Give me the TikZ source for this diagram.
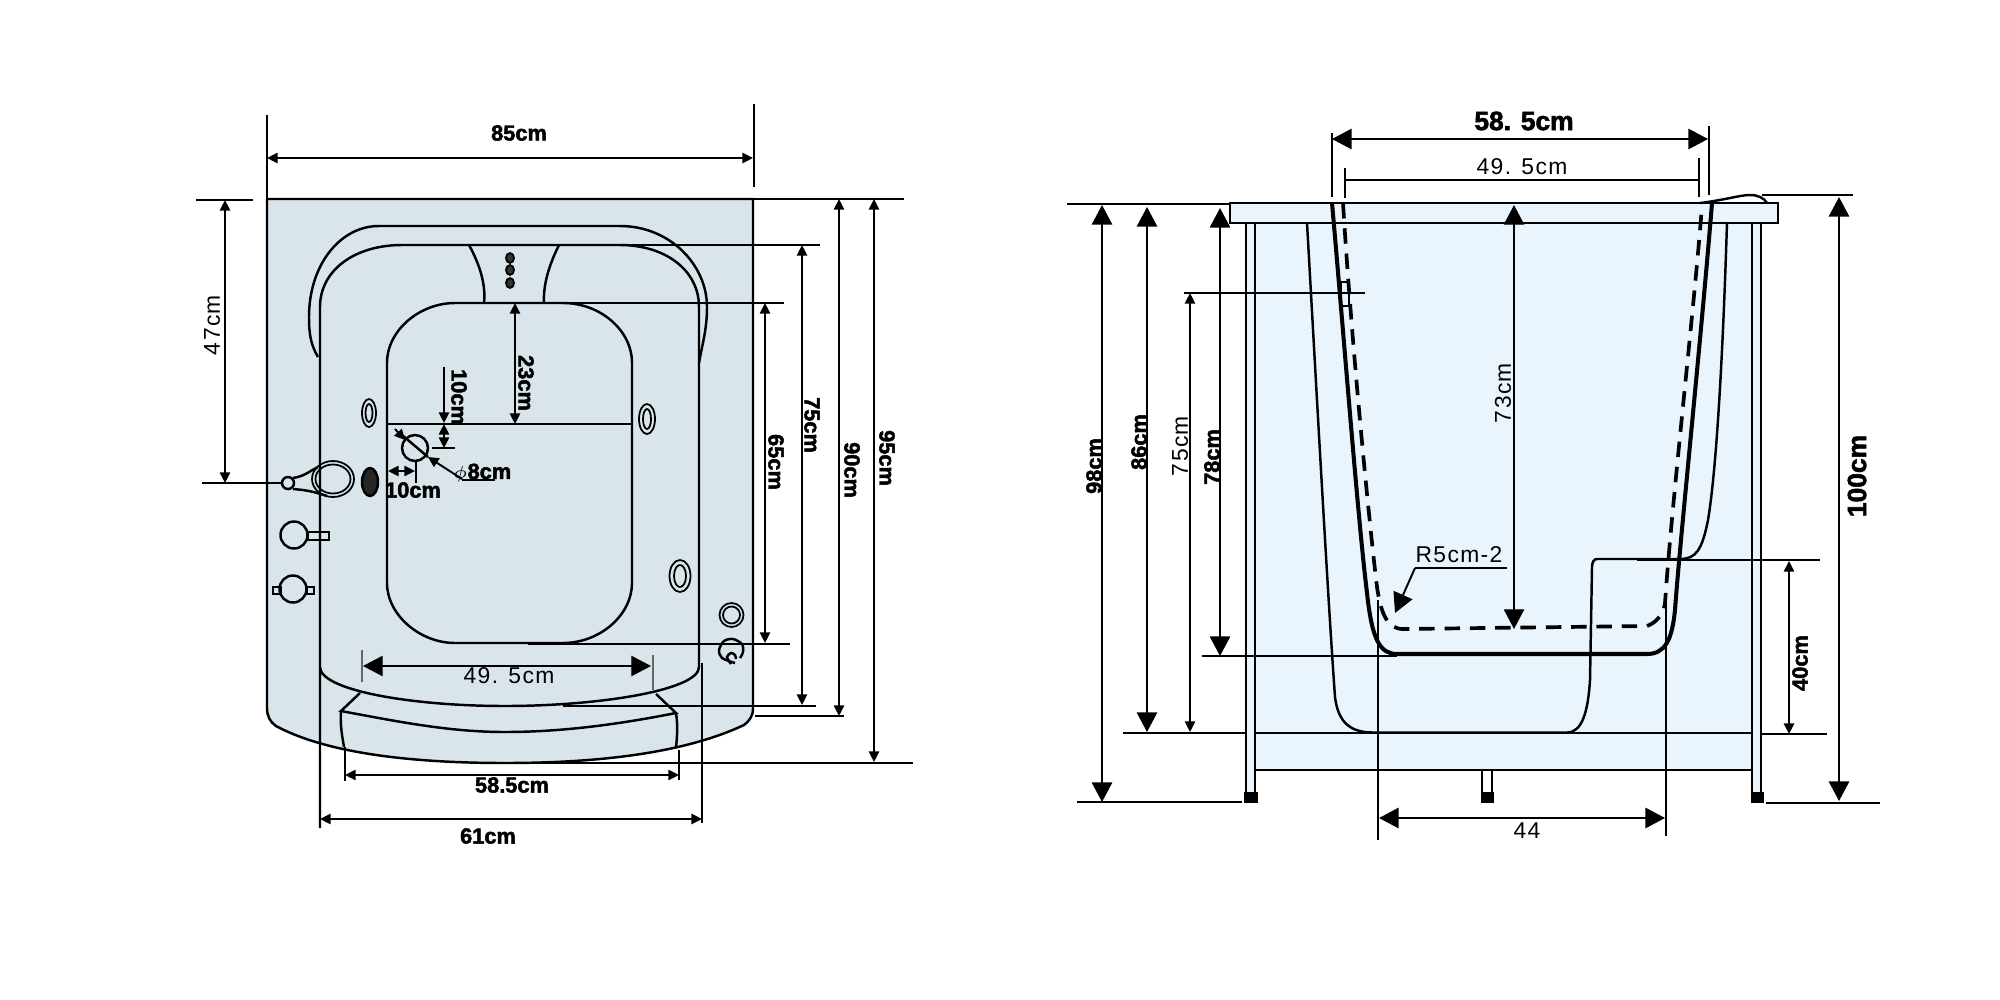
\documentclass[tikz,border=0pt]{standalone}
\usepackage{fontspec}
\setmainfont{Liberation Sans}
\newfontfamily\heavyfont[FakeBold=2.2]{Liberation Sans Bold}
\newfontfamily\thinfont[LetterSpace=6]{Liberation Sans}
\usetikzlibrary{arrows.meta}
\definecolor{panelblue}{HTML}{D9E4EB}
\definecolor{bodyblue}{HTML}{E9F4FC}
\tikzset{
  outline/.style={line width=0.7pt,black},
  thinline/.style={line width=0.5pt,black},
  thickline/.style={line width=1.15pt,black},
  dimsmall/.style={line width=0.55pt,black,{Triangle[length=3pt,width=2.9pt]}-{Triangle[length=3pt,width=2.9pt]}},
  dimbig/.style={line width=0.55pt,black,{Triangle[length=5.6pt,width=5.8pt]}-{Triangle[length=5.6pt,width=5.8pt]}},
  extline/.style={line width=0.5pt,black},
  labthin/.style={font=\fontsize{6.5pt}{7pt}\thinfont,inner sep=0pt},
  labbold/.style={font=\fontsize{6.2pt}{7pt}\heavyfont,inner sep=0pt},
  labbig/.style={font=\fontsize{7.5pt}{8pt}\heavyfont,inner sep=0pt},
}
\begin{document}
\begin{tikzpicture}[x=0.01cm,y=-0.01cm]
\useasboundingbox (0,0) rectangle (2000,1000);
%% top view: panel
\filldraw[outline,fill=panelblue] (267,199)--(753,199)--(753,708) .. controls (753,716) and (750,720) .. (744,725)
  .. controls (680,755) and (590,763) .. (505,763) .. controls (420,763) and (330,755) .. (276,726)
  .. controls (270,722) and (267,716) .. (267,708)--cycle;
%% top view: rim and headrest
\draw[outline] (320,828)--(320,307) .. controls (320,270) and (355,245) .. (402,245)--(620,245)
  .. controls (665,245) and (699,270) .. (699,307)--(699,667) .. controls (699,690) and (600,706) .. (505,706)
  .. controls (410,706) and (320,690) .. (320,667);
\draw[outline] (318,357) .. controls (311,345) and (309,335) .. (309,317) .. controls (309,265) and (340,226) .. (379,226)
  --(620,226) .. controls (670,226) and (707,265) .. (707,307) .. controls (707,330) and (702,345) .. (699,363);
\draw[outline] (469,245) .. controls (480,265) and (486,285) .. (484,303);
\draw[outline] (559,245) .. controls (549,265) and (543,285) .. (544,303);
\foreach \ypos in {258,270,283}{
  \filldraw[thinline,fill=black!80] (510,\ypos) ellipse (4 and 5);
}
%% top view: basin
\draw[outline] (387,424)--(387,363) .. controls (387,330) and (420,303) .. (455,303)--(563,303)
  .. controls (600,303) and (632,330) .. (632,363)--(632,583) .. controls (632,615) and (600,643) .. (563,643)
  --(455,643) .. controls (420,643) and (387,615) .. (387,583)--cycle;
\draw[outline] (387,424)--(632,424);
%% top view: step
\draw[outline] (360,693)--(341,711) .. controls (400,722) and (450,732) .. (505,732) .. controls (570,732) and (630,722) .. (676,713)--(656,694);
\draw[outline] (341,711) .. controls (340,725) and (342,735) .. (344,747);
\draw[outline] (676,713) .. controls (678,725) and (677,738) .. (676,748);
%% top view: jets and fittings
\draw[thinline] (369,413) ellipse (7 and 14);
\draw[thinline] (369,413) ellipse (3.5 and 9);
\draw[thinline] (647,419) ellipse (8 and 15);
\draw[thinline] (647,419) ellipse (4 and 10);
\draw[thinline] (680,576) ellipse (10.5 and 16);
\draw[thinline] (680,576) ellipse (6 and 11);
\filldraw[outline,fill=black!85] (370,482) ellipse (8 and 14);
\draw[thinline] (731.5,615) circle (12);
\draw[thinline] (731.5,615) circle (8.5);
\draw[outline] plot[smooth] coordinates {(735,663) (722,658) (719,650) (724,641) (733,639) (742,644) (743,652) (740,658)};
\draw[outline] plot[smooth] coordinates {(731,664) (727,657) (731,653) (735,655) (736,659)};
%% top view: handle
\draw[thinline] (333,479) ellipse (21 and 18);
\draw[thinline] (333,479) ellipse (17.5 and 14.5);
\draw[outline] (288,483) circle (6);
\draw[outline] (293,478) .. controls (305,476) and (308,472) .. (318,467);
\draw[outline] (293,489) .. controls (305,490) and (312,491) .. (327,496);
\draw[extline] (202,483)--(283,483);
\draw[outline] (294,535) circle (13.5);
\draw[outline] (308,532) rectangle (329,540);
\draw[outline] (293,589) circle (13.5);
\draw[outline] (273,587) rectangle (281,594);
\draw[outline] (307,587) rectangle (314,594);
%% top view: drain
\draw[outline] (415,448) circle (13);
\draw[outline] (402,435)--(428,457);
\draw[line width=0.55pt,-{Triangle[length=3pt,width=2.9pt]}] (395,429)--(405,440);
\draw[line width=0.55pt,-{Triangle[length=3pt,width=2.9pt]}] (462,479)--(428,457);
\draw[extline] (462,480)--(495,480);
\draw[line width=0.55pt,-{Triangle[length=3pt,width=2.9pt]}] (444,367)--(444,423);
\draw[dimsmall] (444,424)--(444,448);
\draw[extline] (432,448)--(455,448);
\draw[dimsmall] (388,471)--(415,471);
\draw[extline] (416,460)--(416,483);
\node[labbold,rotate=-90] (lab_sidea) at (459,397) {10cm};
\node[labbold] (lab_sideb) at (413,490) {10cm};
\node[labbold] (lab_drain) at (482,473) {{\fontsize{4pt}{4pt}\selectfont$\phi$}8cm};
%% top view: dimensions
\draw[extline] (267,115)--(267,199);
\draw[extline] (754,104)--(754,187);
\draw[dimsmall] (267,158)--(753,158);
\node[labbold] (lab_width) at (519,133) {85cm};
\draw[extline] (196,200)--(253,200);
\draw[dimsmall] (225,200)--(225,483);
\node[labthin,rotate=90] (lab_handle) at (212,325) {47cm};
\draw[dimsmall] (515,303)--(515,424);
\node[labbold,rotate=-90] (lab_head) at (526,383) {23cm};
\draw[extline] (565,303)--(784,303);
\draw[extline] (528,644)--(790,644);
\draw[dimsmall] (765,303)--(765,643);
\node[labbold,rotate=-90] (lab_basin) at (776,462) {65cm};
\draw[extline] (574,245)--(820,245);
\draw[extline] (563,706)--(816,706);
\draw[dimsmall] (802,245)--(802,705);
\node[labbold,rotate=-90] (lab_rim) at (812,425) {75cm};
\draw[extline] (753,199)--(904,199);
\draw[extline] (755,716)--(844,716);
\draw[dimsmall] (839,199)--(839,716);
\node[labbold,rotate=-90] (lab_door) at (852,470) {90cm};
\draw[extline] (505,763)--(913,763);
\draw[dimsmall] (874,199)--(874,762);
\node[labbold,rotate=-90] (lab_depth) at (887,458) {95cm};
\draw[extline,black!60] (362,650)--(362,682);
\draw[extline,black!60] (653,655)--(653,690);
\draw[dimbig,line width=0.35pt] (363,666)--(651,666);
\node[labthin] (lab_inner) at (509,676) {49. 5cm};
\draw[extline] (345,747)--(345,781);
\draw[extline] (679,750)--(679,780);
\draw[dimsmall] (345,775)--(679,775);
\node[labbold] (lab_step) at (512,785) {58.5cm};
\draw[extline] (702,663)--(702,823);
\draw[dimsmall] (320,819)--(702,819);
\node[labbold] (lab_outer) at (488,836) {61cm};
%% side view: body and rim
\fill[bodyblue] (1255,223) rectangle (1752,770);
\filldraw[outline,fill=bodyblue] (1230,203) rectangle (1778,223);
\draw[outline] (1255,733)--(1752,733);
\draw[outline] (1255,770)--(1752,770);
\draw[outline,fill=bodyblue] (1246,223) rectangle (1255,793);
\draw[outline,fill=bodyblue] (1752,223) rectangle (1761,793);
\draw[thinline] (1482,770)--(1482,793);
\draw[thinline] (1492,770)--(1492,793);
\fill[black] (1244,792) rectangle (1258,803);
\fill[black] (1481,792) rectangle (1494,803);
\fill[black] (1751,792) rectangle (1764,803);
\draw[outline] (1700,203) .. controls (1725,200) and (1740,195) .. (1750,195) .. controls (1758,195) and (1764,198) .. (1767,203);
%% side view: shell
\draw[thickline] (1332,203) .. controls (1345,350) and (1358,520) .. (1367,593) .. controls (1372,640) and (1380,654) .. (1397,654)
  --(1647,654) .. controls (1665,654) and (1672,640) .. (1675,610) .. controls (1680,540) and (1700,350) .. (1712,203);
\draw[thickline,line width=1.05pt,dash pattern=on 4.4pt off 2.8pt] (1343,203) .. controls (1352,350) and (1370,530) .. (1377,587)
  .. controls (1381,615) and (1388,629) .. (1403,629)--(1647,626) .. controls (1658,622) and (1664,612) .. (1665,603)
  .. controls (1672,500) and (1695,300) .. (1702,205);
\draw[outline] (1307,223) .. controls (1317,400) and (1328,600) .. (1335,697) .. controls (1338,722) and (1350,732.5) .. (1373,732.5)--(1567,732.5)
  .. controls (1582,732.5) and (1588,712) .. (1590,680)--(1592,567) .. controls (1592,562) and (1594,559) .. (1597,559)--(1680,559)
  .. controls (1696,559) and (1702,550) .. (1708,520) .. controls (1718,460) and (1724,320) .. (1727,222);
\draw[thinline] (1341,282) rectangle (1349,306);
%% side view: dimensions
\draw[extline] (1332,133)--(1332,197);
\draw[extline] (1709,126)--(1709,195);
\draw[dimbig] (1332,139)--(1708,139);
\node[labbig] (lab_top) at (1524,121) {58. 5cm};
\draw[extline] (1345,168)--(1345,198);
\draw[extline] (1699,158)--(1699,197);
\draw[extline] (1345,180)--(1699,180);
\node[labthin] (lab_topin) at (1522,167) {49. 5cm};
\draw[extline] (1067,204)--(1230,204);
\draw[extline] (1077,802)--(1242,802);
\draw[dimbig] (1102,205)--(1102,802);
\node[labbold,rotate=90] (lab_total) at (1094,466) {98cm};
\draw[extline] (1123,733)--(1245,733);
\draw[dimbig] (1147,207)--(1147,732);
\node[labbold,rotate=90] (lab_seat) at (1139,442) {86cm};
\draw[extline] (1184,293)--(1365,293);
\draw[dimsmall] (1190,293)--(1190,732);
\node[labthin,rotate=90] (lab_front) at (1180,446) {75cm};
\draw[extline] (1202,656)--(1397,656);
\draw[dimbig] (1220,208)--(1220,656);
\node[labbold,rotate=90] (lab_well) at (1212,457) {78cm};
\draw[extline] (1762,195)--(1853,195);
\draw[extline] (1766,803)--(1880,803);
\draw[dimbig] (1839,197)--(1839,801);
\node[labbig,rotate=90] (lab_high) at (1857,476) {100cm};
\draw[extline] (1637,560)--(1820,560);
\draw[extline] (1761,734)--(1827,734);
\draw[dimsmall] (1789,561)--(1789,734);
\node[labbold,rotate=90] (lab_bench) at (1800,663) {40cm};
\draw[dimbig,line width=0.35pt] (1514,205)--(1514,629);
\node[labthin,rotate=90] (lab_inside) at (1503,393) {73cm};
\node[labthin] (lab_radius) at (1459,555) {R5cm-2};
\draw[extline] (1507,568)--(1415,568);
\draw[line width=0.55pt,-{Triangle[length=5.6pt,width=5.8pt]}] (1415,568)--(1395,613);
\draw[extline] (1378,600)--(1378,840);
\draw[extline] (1666,602)--(1666,836);
\draw[dimbig] (1379,818)--(1665,818);
\node[labthin] (lab_floor) at (1527,831) {44};
\end{tikzpicture}
\end{document}
